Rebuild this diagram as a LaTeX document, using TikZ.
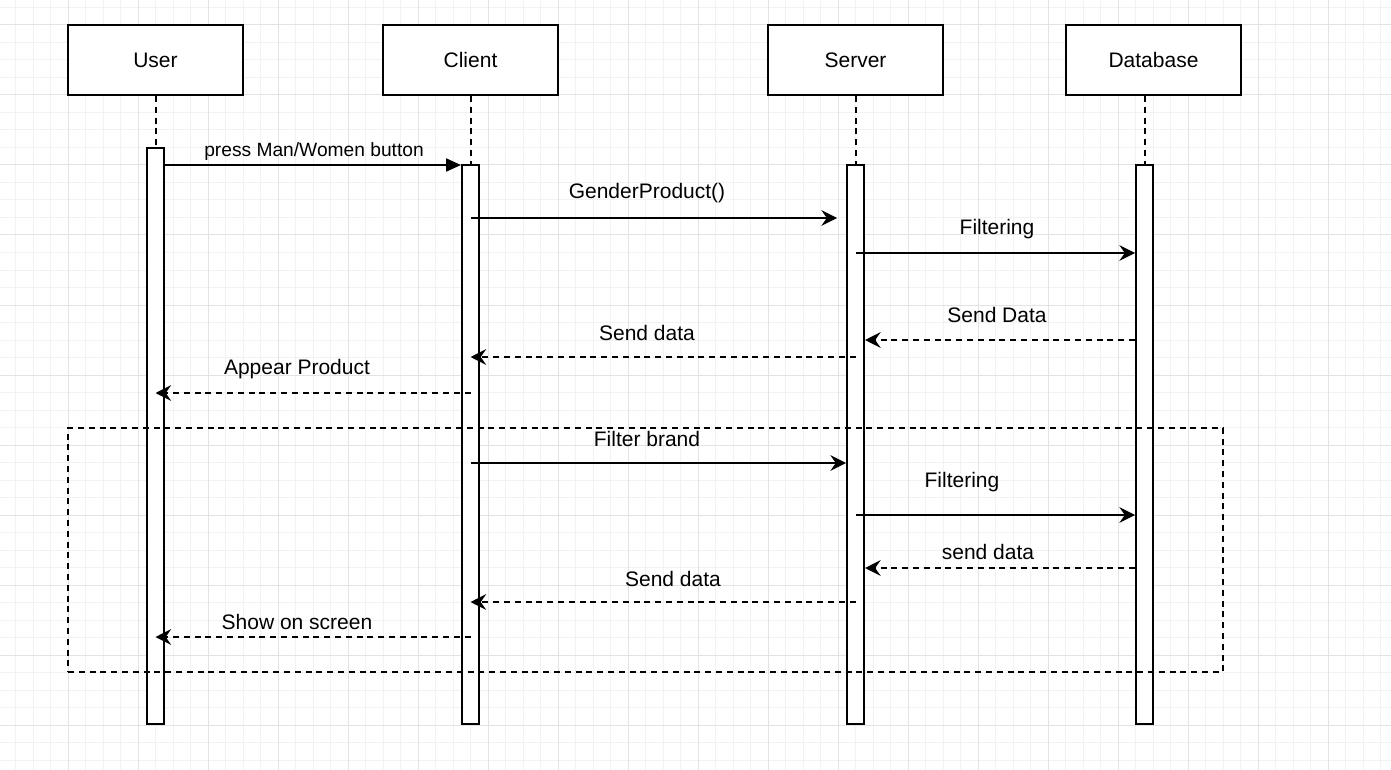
\documentclass[tikz,border=0pt]{standalone}
\usepackage{fontspec}
\setmainfont{Liberation Sans}
\usetikzlibrary{arrows.meta}
\begin{document}
\begin{tikzpicture}[x=0.5pt,y=-0.5pt,
  minorgrid/.style={draw=black!5,line width=0.5pt},
  majorgrid/.style={draw=black!11,line width=0.5pt},
  actor/.style={draw,line width=1pt,fill=white,minimum width=87.5pt,minimum height=35pt,inner sep=0pt,font=\fontsize{10.5}{12}\selectfont},
  bar/.style={draw,line width=1pt,fill=white,minimum width=8.5pt,inner sep=0pt},
  life/.style={line width=1pt,dash pattern=on 3pt off 2.4pt},
  msg/.style={line width=1pt,-{Stealth[length=7.8pt,width=7.8pt,inset=2.7pt]}},
  firstmsg/.style={line width=1pt,-{Triangle[length=7.5pt,width=6.5pt]}},
  ret/.style={msg,dash pattern=on 3pt off 2.4pt},
  lbl/.style={inner sep=0pt,font=\fontsize{10.5}{12}\selectfont},
  smalllbl/.style={inner sep=0pt,font=\fontsize{9.6}{11}\selectfont},
  framebox/.style={draw,line width=1pt,dash pattern=on 3pt off 2.4pt,inner sep=0pt,minimum width=577.5pt,minimum height=122pt}]
\useasboundingbox (0,0) rectangle (1391,770);
\fill[white] (0,0) rectangle (1391,770);
% grid
\foreach \k in {0,...,80} {
  \pgfmathsetmacro\gx{-1.7+17.5*\k}
  \pgfmathtruncatemacro\r{mod(\k,4)}
  \ifnum\r=0\relax\else\draw[minorgrid] (\gx,0) -- (\gx,770);\fi
}
\foreach \k in {0,...,44} {
  \pgfmathsetmacro\gy{7.5+17.5*\k}
  \pgfmathtruncatemacro\r{mod(\k,4)}
  \ifnum\r=1\relax\else\draw[minorgrid] (0,\gy) -- (1391,\gy);\fi
}
\foreach \k in {0,...,20} {
  \pgfmathsetmacro\gx{-1.7+70*\k}
  \draw[majorgrid] (\gx,0) -- (\gx,770);
}
\foreach \k in {0,...,11} {
  \pgfmathsetmacro\gy{-45+70*\k}
  \draw[majorgrid] (0,\gy) -- (1391,\gy);
}
% actors
\node[actor] (user) at (155.5,60) {User};
\node[actor] (client) at (470.5,60) {Client};
\node[actor] (server) at (855.5,60) {Server};
\node[actor] (db) at (1153.5,60) {Database};
% activation bars
\node[bar,minimum height=288pt] (ubar) at (155.5,436) {};
\node[bar,minimum height=279.5pt] (cbar) at (470.5,444.5) {};
\node[bar,minimum height=279.5pt] (sbar) at (855.5,444.5) {};
\node[bar,minimum height=279.5pt] (dbar) at (1144.5,444.5) {};
% lifelines
\draw[life] (user.south) -- (ubar.north);
\draw[life] (client.south) -- (cbar.north);
\draw[life] (server.south) -- (sbar.north);
\draw[life] (dbar.north |- db.south) -- (dbar.north);
% frame
\node[framebox] (frame) at (645.5,550) {};
% messages
\draw[firstmsg] (ubar.east |- 0,165) -- (cbar.west |- 0,165);
\node[smalllbl] (l1) at (314,152) {press Man/Women button};
\path (sbar.west |- 0,218) ++(-9,0) coordinate (g2);
\draw[msg] (cbar.center |- 0,218) -- (g2);
\node[lbl] (l2) at (647,193) {GenderProduct()};
\draw[msg] (sbar.center |- 0,253) -- (dbar.west |- 0,253);
\node[lbl] (l3) at (997,229) {Filtering};
\draw[ret] (dbar.west |- 0,340) -- (sbar.east |- 0,340);
\node[lbl] (l4) at (997,315) {Send Data};
\draw[ret] (sbar.center |- 0,357) -- (cbar.center |- 0,357);
\node[lbl] (l5) at (647,333) {Send data};
\draw[ret] (cbar.center |- 0,393) -- (ubar.center |- 0,393);
\node[lbl] (l6) at (297,369) {Appear Product};
\draw[msg] (cbar.center |- 0,463) -- (sbar.west |- 0,463);
\node[lbl] (l7) at (647,439) {Filter brand};
\draw[msg] (sbar.center |- 0,515) -- (dbar.west |- 0,515);
\node[lbl] (l8) at (962,482) {Filtering};
\draw[ret] (dbar.west |- 0,568) -- (sbar.east |- 0,568);
\node[lbl] (l9) at (988,552) {send data};
\draw[ret] (sbar.center |- 0,602) -- (cbar.center |- 0,602);
\node[lbl] (l10) at (673,579) {Send data};
\draw[ret] (cbar.center |- 0,637) -- (ubar.center |- 0,637);
\node[lbl] (l11) at (297,622) {Show on screen};
\end{tikzpicture}
\end{document}
